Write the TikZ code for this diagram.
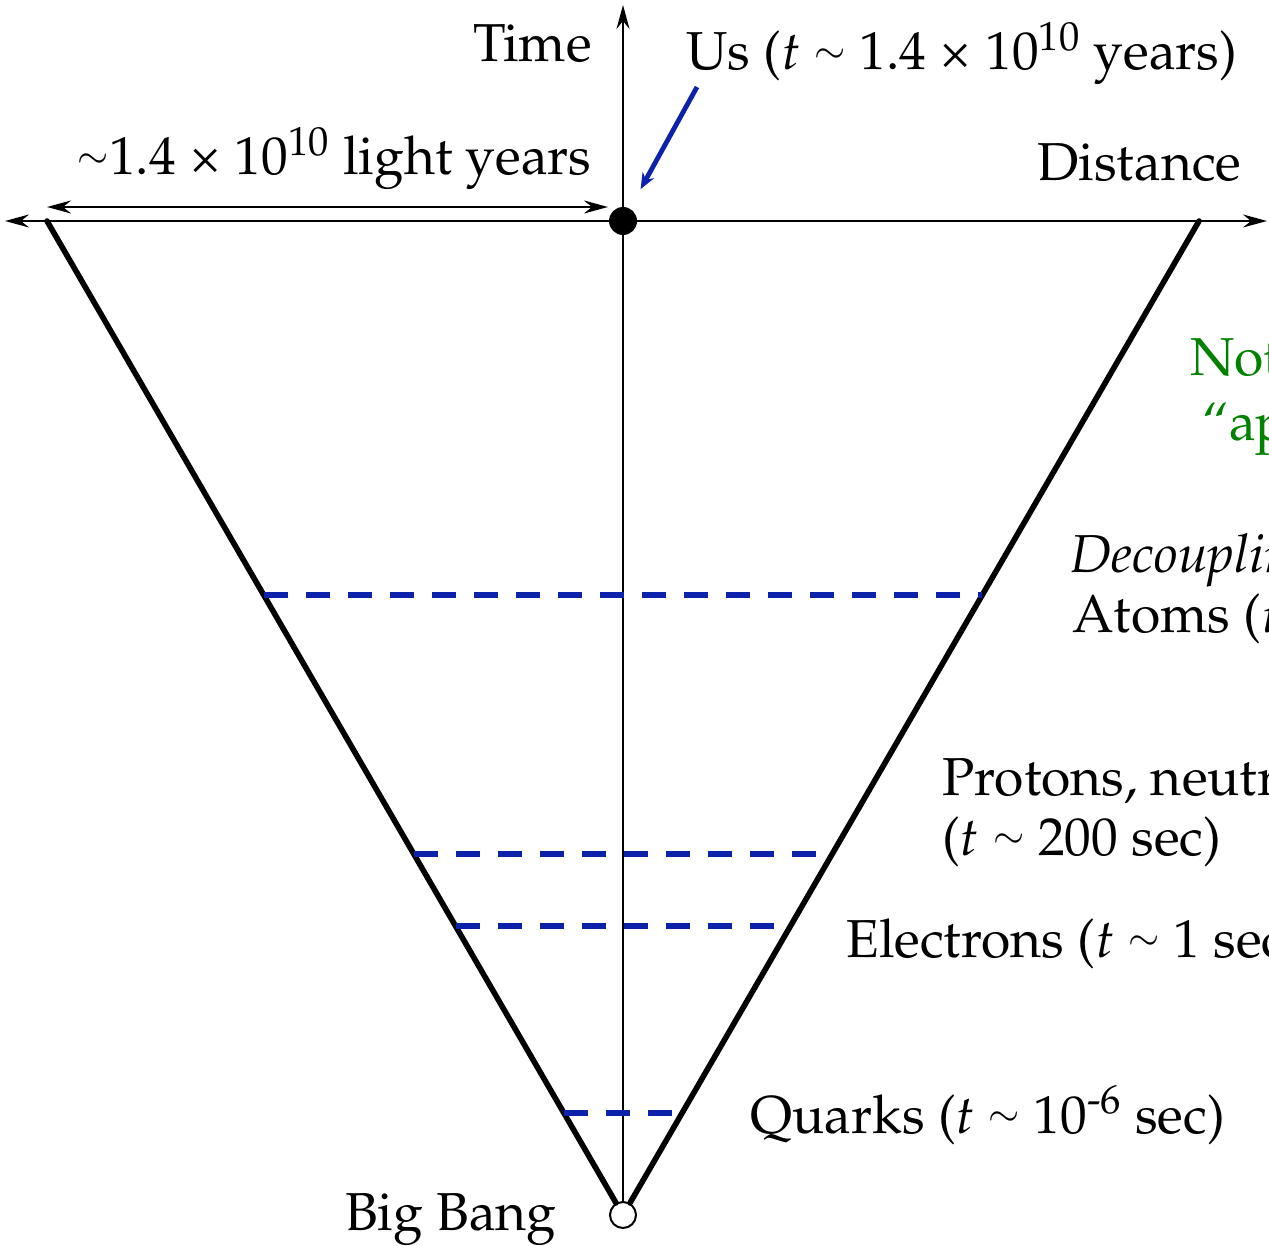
\documentclass[tikz,border=0pt]{standalone}
\usepackage[T1]{fontenc}
\usepackage{textcomp}
\usepackage{mathpazo}
\usepackage{graphicx}
\usepackage{xcolor}
\usepackage{tikz}
\usetikzlibrary{arrows.meta,calc}

\definecolor{epochblue}{RGB}{12,34,170}
\definecolor{notegreen}{RGB}{0,130,0}
\newcommand{\apx}{\raisebox{0.12em}{\scalebox{0.72}{$\sim$}}}

\begin{document}
\begin{tikzpicture}[x=0.5pt,y=-0.5pt,
    font=\fontsize{26.7}{32}\selectfont,
    >={Stealth[length=12pt,width=6.5pt,inset=4pt]},
    lbl/.style={anchor=base west, inner sep=0pt},
    axis/.style={line width=1pt},
    cone/.style={line width=2.8pt, line cap=round},
    epoch/.style={epochblue, line width=2.8pt, dash pattern=on 12pt off 9pt},
    pointer/.style={epochblue, line width=2.4pt, -{Stealth[length=8pt,width=6.5pt]}}]
    \useasboundingbox (0,0) rectangle (1269,1246);
    \clip (0,0) rectangle (1269,1246);
    % corners of the cone and axis ends
    \coordinate (tl) at (47,221);
    \coordinate (tr) at (1199,221);
    \coordinate (xl) at (5,221);
    \coordinate (xr) at (1267,221);
    \coordinate (ttop) at (623,5);
    \coordinate (dl) at (47,207);
    \coordinate (dr) at (608,207);
    \coordinate (usfrom) at (697,87);
    \node[circle, draw, fill=white, line width=1pt, minimum size=13pt, inner sep=0pt] (bang) at (623,1215) {};
    % axes
    \draw[axis, ->] (bang) -- (ttop);
    \draw[axis, <->] (xl) -- (xr);
    \draw[axis, <->] (dl) -- (dr);
    % light cone
    \draw[cone] (tl) -- (bang);
    \draw[cone] (tr) -- (bang);
    % epochs
    \foreach \f in {0.3763, 0.6368, 0.7093, 0.8974} {
      \draw[epoch] ($(tl)!\f!(bang.center)$) -- ($(tr)!\f!(bang.center)$);
    }
    \node[circle, fill=black, minimum size=14pt, inner sep=0pt] (us) at (623,221) {};
    \draw[pointer, shorten >=11pt] (usfrom) -- (us);
    % labels
    \node[lbl, anchor=base east] (timelbl) at (592,62) {Time};
    \node[lbl] (uslbl) at (686,70) {Us ($t$ \apx{} 1.4 \texttimes{} 10\textsuperscript{10} years)};
    \node[lbl, anchor=base east] (widthlbl) at (592,175) {\apx{}1.4 \texttimes{} 10\textsuperscript{10} light years};
    \node[lbl] (distlbl) at (1037,181) {Distance};
    \node[lbl, notegreen] (note1) at (1190,375) {Note};
    \node[lbl, notegreen] (note2) at (1202,440) {``ap};
    \node[lbl] (declbl) at (1070,572) {\textit{Decoupling}};
    \node[lbl] (atomlbl) at (1072,632) {Atoms ($t$};
    \node[lbl] (protlbl) at (942,795) {Protons, neutrons};
    \node[lbl] (protlbl2) at (942,855) {($t$ \apx{} 200 sec)};
    \node[lbl] (eleclbl) at (846,957) {Electrons ($t$ \apx{} 1 sec)};
    \node[lbl] (quarklbl) at (750,1133) {Quarks ($t$ \apx{} 10\textsuperscript{-6} sec)};
    \node[lbl, anchor=base east] (banglbl) at (557,1230) {Big Bang};
\end{tikzpicture}
\end{document}
